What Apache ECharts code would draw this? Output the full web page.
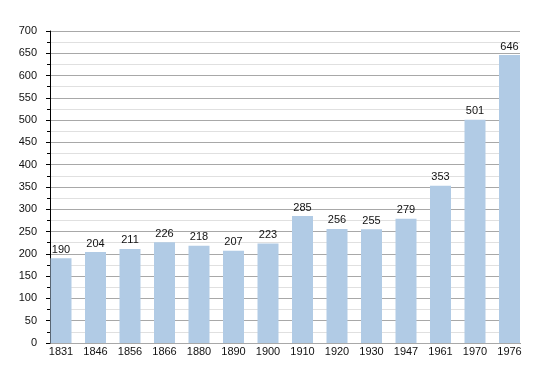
<!DOCTYPE html>
<html><head><meta charset="utf-8">
<script src="https://cdn.jsdelivr.net/npm/echarts@6/dist/echarts.min.js"></script>
<style>html,body{margin:0;padding:0;background:#fff}#c{width:550px;height:373px}</style>
</head><body><div id="c"></div>
<script>
var years = ['1831','1846','1856','1866','1880','1890','1900','1910','1920','1930','1947','1961','1970','1976'];
var population = [190,204,211,226,218,207,223,285,256,255,279,353,501,646];
var yMin = 0, yMax = 700, yStep = 50;

var chart = echarts.init(document.getElementById('c'), null, {renderer:'canvas'});
var font = 'Liberation Sans, Arial, sans-serif';
chart.setOption({
  animation:false,
  grid:[
    {left:43.75, right:23.25, top:31, bottom:30},
    {left:50, right:30, top:31, bottom:30}
  ],
  xAxis:[
    {type:'category', gridIndex:0, data:years, boundaryGap:true,
     axisLine:{show:false}, axisTick:{show:false},
     axisLabel:{color:'#111', fontSize:11, fontFamily:font, margin:3}},
    {type:'value', gridIndex:1, min:0, max:1, show:true,
     axisLine:{show:true, lineStyle:{color:'#000', width:1}},
     axisTick:{show:false}, axisLabel:{show:false}, splitLine:{show:false}}
  ],
  yAxis:[
    {type:'value', gridIndex:0, min:yMin, max:yMax, show:false},
    {type:'value', gridIndex:1, min:yMin, max:yMax, interval:yStep, z:3,
     axisLine:{show:true, lineStyle:{color:'#000', width:1}},
     axisTick:{show:true, length:4, lineStyle:{color:'#000'}},
     minorTick:{show:true, splitNumber:2, length:3, lineStyle:{color:'#000'}},
     axisLabel:{color:'#111', fontSize:11, fontFamily:font, margin:13},
     splitLine:{show:true, lineStyle:{color:'#a8a8a8', width:1}},
     minorSplitLine:{show:true, lineStyle:{color:'#e0e0e0', width:1}}}
  ],
  series:[{
    type:'bar', xAxisIndex:0, yAxisIndex:0, data:population, barWidth:21, z:5,
    itemStyle:{color:'#b1cbe5'},
    label:{show:true, position:'top', distance:3, color:'#111', fontSize:11, fontFamily:font}
  }]
});
</script></body></html>
